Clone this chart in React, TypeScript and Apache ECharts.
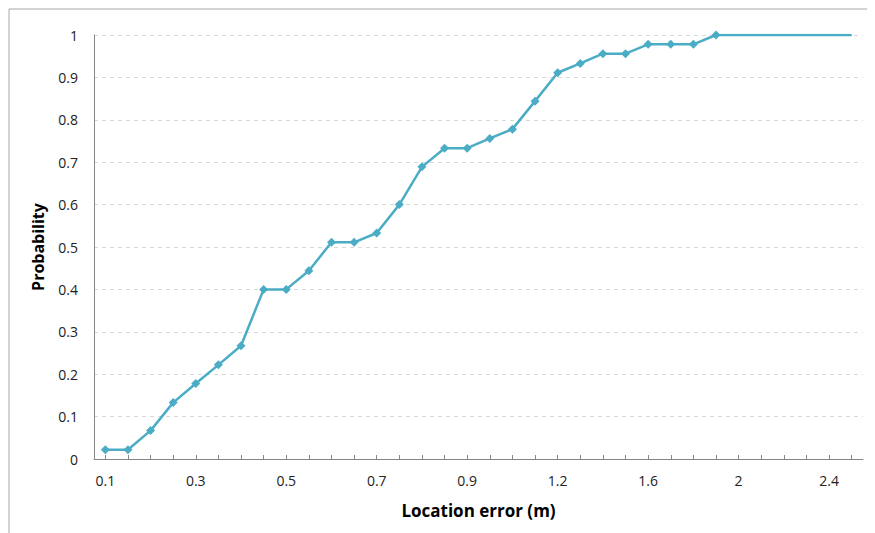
import React, { useEffect, useRef } from "react";
import * as echarts from "echarts";

const categories: string[] = [
  "0.1", "0.15", "0.2", "0.25", "0.3", "0.35", "0.4", "0.45", "0.5", "0.55",
  "0.6", "0.65", "0.7", "0.75", "0.8", "0.85", "0.9", "0.95", "1", "1.1",
  "1.2", "1.3", "1.4", "1.5", "1.6", "1.7", "1.8", "1.9", "2", "2.1",
  "2.2", "2.3", "2.4", "2.5",
];

const probability: number[] = [
  0.022, 0.022, 0.067, 0.133, 0.178, 0.222, 0.267, 0.4, 0.4, 0.444,
  0.511, 0.511, 0.533, 0.6, 0.689, 0.733, 0.733, 0.756, 0.778, 0.844,
  0.911, 0.933, 0.956, 0.956, 0.978, 0.978, 0.978, 1, 1, 1,
  1, 1, 1, 1,
];

// number of leading points drawn with a marker
const markedCount = 28;

const yTicks = { min: 0, max: 1, interval: 0.1 };

export default function App() {
  const ref = useRef<HTMLDivElement>(null);
  useEffect(() => {
    if (!ref.current) return;
    const chart = echarts.init(ref.current, null, { renderer: "svg" });
    const font = "'Open Sans', 'Noto Sans', sans-serif";
    chart.setOption({
      animation: false,
      backgroundColor: "#ffffff",
      textStyle: { fontFamily: font },
      graphic: [
        {
          type: "rect",
          shape: { x: 1, y: 1, width: 900, height: 600 },
          style: { fill: "none", stroke: "#a6a6a6", lineWidth: 1 },
          silent: true,
        },
      ],
      grid: { left: 86, right: 12, top: 27, bottom: 74 },
      xAxis: {
        type: "category",
        data: categories,
        boundaryGap: true,
        name: "Location error (m)",
        nameLocation: "middle",
        nameGap: 43,
        nameTextStyle: { fontSize: 17, fontWeight: "bold", color: "#000", fontFamily: font },
        axisLine: { lineStyle: { color: "#868686", width: 1 } },
        axisTick: { show: true, inside: true, length: 4, alignWithLabel: true, interval: 0, lineStyle: { color: "#868686" } },
        axisLabel: { interval: 3, fontSize: 14, color: "#222", margin: 14, fontFamily: font },
        splitLine: { show: false },
      },
      yAxis: {
        type: "value",
        min: yTicks.min,
        max: yTicks.max,
        interval: yTicks.interval,
        name: "Probability",
        nameLocation: "middle",
        nameRotate: 90,
        nameGap: 48,
        nameTextStyle: { fontSize: 16, fontWeight: "bold", color: "#000", fontFamily: font },
        axisLine: { show: true, lineStyle: { color: "#868686", width: 1 } },
        axisTick: { show: false },
        axisLabel: { fontSize: 14, color: "#222", margin: 16, fontFamily: font },
        splitLine: { show: true, lineStyle: { color: "#d9d9d9", type: [4, 4], width: 1 } },
      },
      series: [
        {
          type: "line",
          data: probability.map((v, i) =>
            i < markedCount ? { value: v } : { value: v, symbol: "none" }
          ),
          symbol: "diamond",
          symbolSize: 9,
          showAllSymbol: true,
          lineStyle: { color: "#4bacc6", width: 2.5 },
          itemStyle: { color: "#4bacc6" },
        },
      ],
    });
    return () => chart.dispose();
  }, []);
  return <div ref={ref} style={{ width: 867, height: 525 }} />;
}
